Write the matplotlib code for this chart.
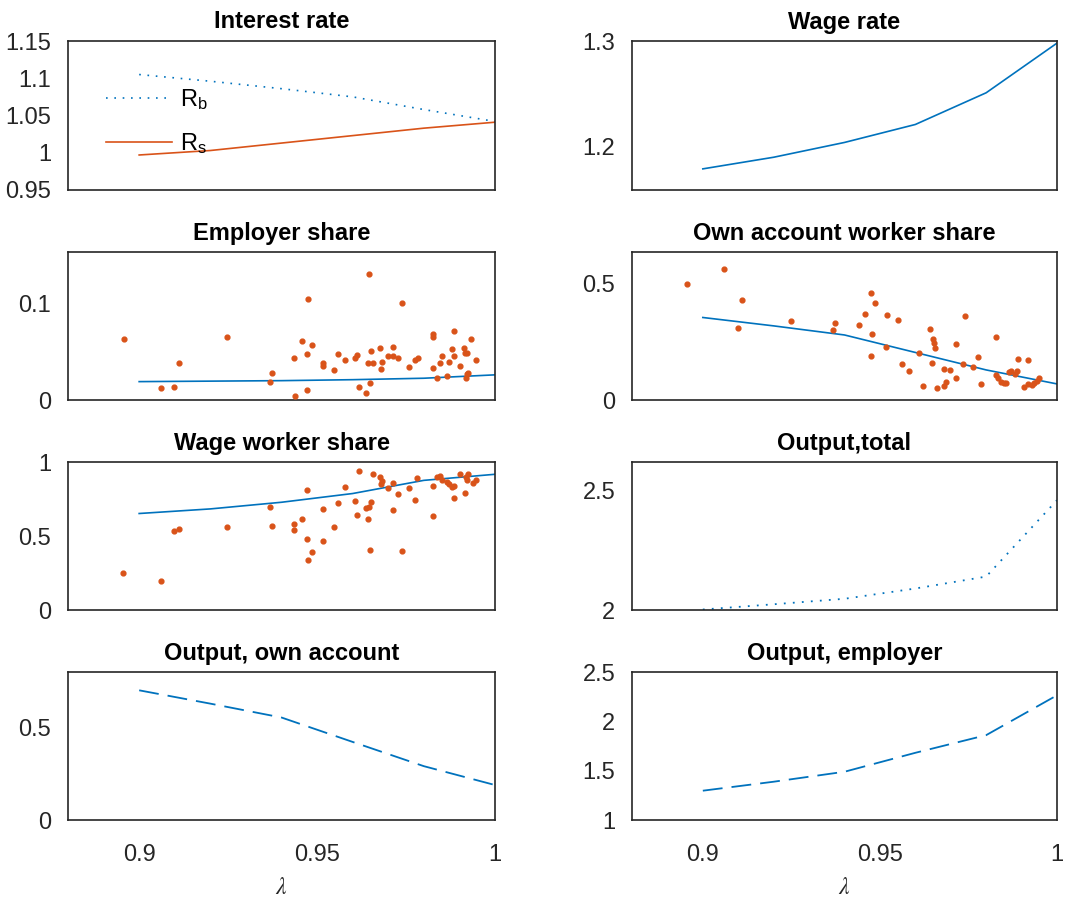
import matplotlib
matplotlib.use("Agg")
import matplotlib.pyplot as plt
from matplotlib.ticker import FormatStrFormatter

plt.rcParams['font.family'] = ['Liberation Sans', 'DejaVu Sans']
plt.rcParams['mathtext.fontset'] = 'stix'

blue = '#0072BD'
orange = '#D95319'
dark = '#262626'

# model grid
lam = [0.90, 0.92, 0.94, 0.96, 0.98, 1.00]

r_b = [1.105, 1.096, 1.086, 1.075, 1.058, 1.042]
r_s = [0.997, 1.003, 1.013, 1.023, 1.033, 1.041]
wage_rate = [1.179, 1.190, 1.204, 1.221, 1.251, 1.298]
employer_model = [0.019, 0.0195, 0.020, 0.021, 0.0225, 0.026]
own_model = [0.354, 0.318, 0.279, 0.204, 0.129, 0.069]
wage_model = [0.652, 0.683, 0.728, 0.787, 0.876, 0.917]
output_total = [2.002, 2.024, 2.047, 2.090, 2.140, 2.460]
output_own = [0.701, 0.629, 0.554, 0.422, 0.291, 0.189]
output_emp = [1.297, 1.388, 1.489, 1.681, 1.860, 2.264]

# data points
emp_x = [0.8956, 0.9061, 0.9098, 0.9112, 0.9248, 0.9368, 0.9372, 0.9436, 0.9437, 0.9458,
         0.9473, 0.9475, 0.9472, 0.9485, 0.9516, 0.9518, 0.9548, 0.9558, 0.9579, 0.9606,
         0.9613, 0.9619, 0.9638, 0.9645, 0.9644, 0.9652, 0.9656, 0.9649, 0.9677, 0.9680,
         0.9683, 0.9698, 0.9713, 0.9714, 0.9728, 0.9738, 0.9759, 0.9775, 0.9784, 0.9825,
         0.9826, 0.9827, 0.9836, 0.9850, 0.9846, 0.9864, 0.9872, 0.9878, 0.9885, 0.9886,
         0.9902, 0.9914, 0.9916, 0.9919, 0.9922, 0.9925, 0.9932, 0.9920, 0.9946]
emp_y = [0.0631, 0.0121, 0.0138, 0.0386, 0.0652, 0.0183, 0.0276, 0.0438, 0.0041, 0.0610,
         0.0476, 0.1041, 0.0100, 0.0572, 0.0379, 0.0355, 0.0307, 0.0479, 0.0414, 0.0438,
         0.0469, 0.0131, 0.0069, 0.1303, 0.0386, 0.0503, 0.0386, 0.0172, 0.0538, 0.0317,
         0.0397, 0.0455, 0.0548, 0.0459, 0.0438, 0.1000, 0.0345, 0.0410, 0.0438, 0.0679,
         0.0648, 0.0334, 0.0224, 0.0459, 0.0386, 0.0248, 0.0393, 0.0528, 0.0714, 0.0459,
         0.0355, 0.0541, 0.0490, 0.0224, 0.0269, 0.0276, 0.0631, 0.0483, 0.0414]

own_x = [0.8954, 0.9061, 0.9110, 0.9100, 0.9249, 0.9368, 0.9374, 0.9440, 0.9459, 0.9475,
         0.9487, 0.9478, 0.9474, 0.9520, 0.9518, 0.9550, 0.9561, 0.9581, 0.9611, 0.9621,
         0.9641, 0.9648, 0.9651, 0.9653, 0.9656, 0.9660, 0.9680, 0.9681, 0.9687, 0.9697,
         0.9714, 0.9716, 0.9734, 0.9741, 0.9762, 0.9778, 0.9786, 0.9827, 0.9827, 0.9834,
         0.9843, 0.9851, 0.9856, 0.9865, 0.9870, 0.9880, 0.9887, 0.9891, 0.9906, 0.9919,
         0.9917, 0.9929, 0.9936, 0.9944, 0.9950]
own_y = [0.496, 0.560, 0.427, 0.309, 0.337, 0.301, 0.330, 0.320, 0.369, 0.461,
         0.417, 0.283, 0.189, 0.364, 0.226, 0.343, 0.153, 0.126, 0.200, 0.060,
         0.303, 0.160, 0.261, 0.243, 0.224, 0.053, 0.131, 0.061, 0.079, 0.129,
         0.241, 0.093, 0.153, 0.360, 0.143, 0.186, 0.069, 0.271, 0.107, 0.093,
         0.079, 0.071, 0.074, 0.121, 0.126, 0.111, 0.126, 0.174, 0.057, 0.171,
         0.069, 0.064, 0.071, 0.083, 0.093]

wage_x = [0.8954, 0.9061, 0.9098, 0.9112, 0.9248, 0.9368, 0.9372, 0.9436, 0.9436, 0.9458,
          0.9472, 0.9473, 0.9475, 0.9485, 0.9516, 0.9518, 0.9548, 0.9558, 0.9579, 0.9606,
          0.9613, 0.9619, 0.9638, 0.9645, 0.9644, 0.9649, 0.9652, 0.9656, 0.9677, 0.9680,
          0.9683, 0.9698, 0.9713, 0.9714, 0.9728, 0.9738, 0.9759, 0.9775, 0.9782, 0.9825,
          0.9827, 0.9836, 0.9846, 0.9850, 0.9864, 0.9872, 0.9878, 0.9885, 0.9886, 0.9902,
          0.9916, 0.9919, 0.9922, 0.9925, 0.9939, 0.9946]
wage_y = [0.247, 0.196, 0.533, 0.546, 0.560, 0.697, 0.566, 0.580, 0.539, 0.618,
          0.813, 0.481, 0.337, 0.393, 0.681, 0.467, 0.560, 0.724, 0.831, 0.737,
          0.645, 0.937, 0.692, 0.697, 0.616, 0.404, 0.730, 0.921, 0.899, 0.854,
          0.872, 0.827, 0.858, 0.674, 0.787, 0.400, 0.827, 0.746, 0.892, 0.634,
          0.836, 0.899, 0.903, 0.881, 0.865, 0.849, 0.831, 0.760, 0.836, 0.921,
          0.791, 0.899, 0.881, 0.921, 0.861, 0.881]

fig = plt.figure(figsize=(10.66, 9.05), dpi=100)

W, H = 1066.0, 905.0
cols = [(68, 427), (632, 425)]
rows = [(41, 190), (252, 400), (462, 610), (672, 820)]


def make_axes(r, c):
    x0, w = cols[c]
    top, bot = rows[r]
    ax = fig.add_axes([x0 / W, 1 - bot / H, w / W, (bot - top) / H])
    ax.set_xlim(0.88, 1.0)
    ax.set_xticks([0.9, 0.95, 1.0])
    ax.xaxis.set_major_formatter(FormatStrFormatter('%g'))
    ax.yaxis.set_major_formatter(FormatStrFormatter('%g'))
    ax.tick_params(length=0, labelsize=17, colors=dark)
    ax.tick_params(axis='y', pad=12)
    ax.tick_params(axis='x', pad=17)
    for s in ax.spines.values():
        s.set_color(dark)
        s.set_linewidth(1.2)
    if r < 3:
        ax.set_xticklabels([])
    else:
        ax.set_xlabel(r'$\lambda$', fontsize=17, color=dark, labelpad=8)
    return ax


def set_title(ax, text):
    ax.set_title(text, fontsize=17, fontweight='bold', pad=9)


dotted = (0, (1, 4))
dashed = (0, (11, 5))

# Interest rate
ax = make_axes(0, 0)
ax.plot(lam, r_b, color=blue, lw=1.2, linestyle=dotted, label=r'$\mathregular{R_b}$')
ax.plot(lam, r_s, color=orange, lw=1.2, label=r'$\mathregular{R_s}$')
ax.set_ylim(0.95, 1.15)
ax.set_yticks([0.95, 1.0, 1.05, 1.1, 1.15])
ax.legend(loc='upper left', bbox_to_anchor=(38 / 427, 1 - 46 / 149), frameon=False,
          fontsize=17, handlelength=2.8, handletextpad=0.35, labelspacing=0.8,
          borderpad=0, borderaxespad=0)
set_title(ax, 'Interest rate')

# Wage rate
ax = make_axes(0, 1)
ax.plot(lam, wage_rate, color=blue, lw=1.2)
ax.set_ylim(1.159, 1.3)
ax.set_yticks([1.2, 1.3])
set_title(ax, 'Wage rate')

# Employer share
ax = make_axes(1, 0)
ax.plot(lam, employer_model, color=blue, lw=1.2)
ax.scatter(emp_x, emp_y, s=12, color=orange, zorder=3)
ax.set_ylim(0, 0.153)
ax.set_yticks([0, 0.1])
set_title(ax, 'Employer share')

# Own account worker share
ax = make_axes(1, 1)
ax.plot(lam, own_model, color=blue, lw=1.2)
ax.scatter(own_x, own_y, s=12, color=orange, zorder=3)
ax.set_ylim(0, 0.635)
ax.set_yticks([0, 0.5])
set_title(ax, 'Own account worker share')

# Wage worker share
ax = make_axes(2, 0)
ax.plot(lam, wage_model, color=blue, lw=1.2)
ax.scatter(wage_x, wage_y, s=12, color=orange, zorder=3)
ax.set_ylim(0, 1)
ax.set_yticks([0, 0.5, 1])
set_title(ax, 'Wage worker share')

# Output, total
ax = make_axes(2, 1)
ax.plot(lam, output_total, color=blue, lw=1.3, linestyle=dotted)
ax.set_ylim(2, 2.62)
ax.set_yticks([2, 2.5])
set_title(ax, 'Output,total')

# Output, own account
ax = make_axes(3, 0)
ax.plot(lam, output_own, color=blue, lw=1.3, linestyle=dashed)
ax.set_ylim(0, 0.8)
ax.set_yticks([0, 0.5])
set_title(ax, 'Output, own account')

# Output, employer
ax = make_axes(3, 1)
ax.plot(lam, output_emp, color=blue, lw=1.3, linestyle=dashed)
ax.set_ylim(1, 2.5)
ax.set_yticks([1, 1.5, 2, 2.5])
set_title(ax, 'Output, employer')

fig.savefig('out.png', dpi=100)
